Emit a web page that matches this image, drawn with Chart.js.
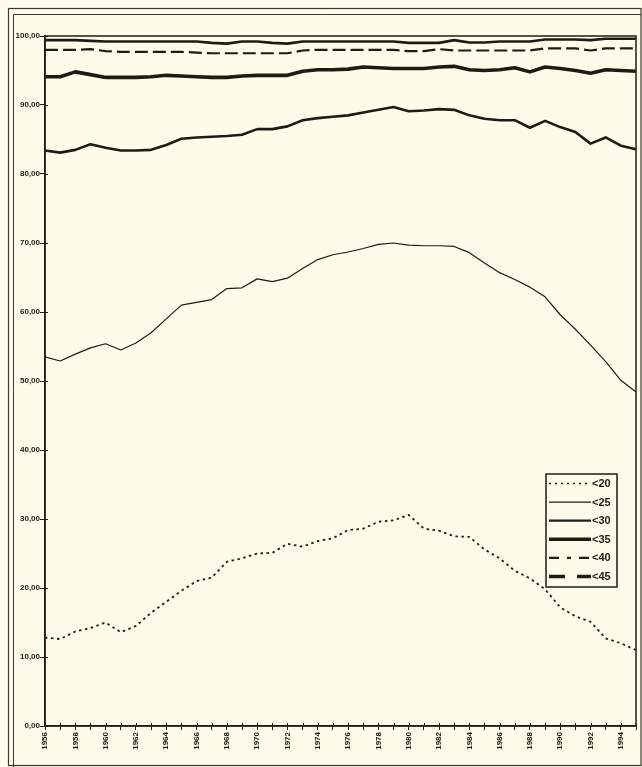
<!DOCTYPE html>
<html>
<head>
<meta charset="utf-8">
<script src="https://cdn.jsdelivr.net/npm/chart.js@4.4.1/dist/chart.umd.min.js"></script>
<style>
  html, body { margin: 0; padding: 0; background: #FEFCE8; }
  canvas { display: block; }
</style>
</head>
<body>
<canvas id="c" width="642" height="767"></canvas>
<script>
const years = [1956,1957,1958,1959,1960,1961,1962,1963,1964,1965,1966,1967,1968,1969,1970,
  1971,1972,1973,1974,1975,1976,1977,1978,1979,1980,1981,1982,1983,1984,1985,1986,1987,1988,
  1989,1990,1991,1992,1993,1994,1995];

const seriesNames = ['<20', '<25', '<30', '<35', '<40', '<45'];

const under20 = [12.8,12.6,13.7,14.2,15.0,13.6,14.5,16.4,18.0,19.6,21.0,21.5,23.8,24.3,25.0,
  25.1,26.4,26.0,26.8,27.2,28.4,28.6,29.6,29.8,30.6,28.6,28.3,27.5,27.4,25.6,24.3,22.5,21.4,
  19.8,17.2,15.9,15.1,12.7,12.0,11.0];

const under25 = [53.5,52.9,53.9,54.8,55.4,54.5,55.5,57.0,59.0,61.0,61.4,61.8,63.4,63.5,64.8,
  64.4,64.9,66.3,67.6,68.3,68.7,69.2,69.8,70.0,69.7,69.6,69.6,69.5,68.6,67.1,65.7,64.7,63.6,
  62.2,59.6,57.5,55.2,52.8,50.1,48.4];

const under30 = [83.4,83.1,83.5,84.3,83.8,83.4,83.4,83.5,84.2,85.1,85.3,85.4,85.5,85.7,86.5,
  86.5,86.9,87.8,88.1,88.3,88.5,88.9,89.3,89.7,89.1,89.2,89.4,89.3,88.5,88.0,87.8,87.8,86.7,
  87.7,86.8,86.1,84.4,85.3,84.1,83.6];

const under35 = [94.1,94.1,94.8,94.4,94.0,94.0,94.0,94.1,94.3,94.2,94.1,94.0,94.0,94.2,94.3,
  94.3,94.3,94.9,95.1,95.1,95.2,95.5,95.4,95.3,95.3,95.3,95.5,95.6,95.1,95.0,95.1,95.4,94.8,
  95.5,95.3,95.0,94.6,95.1,95.0,94.9];

const under40 = [98.0,98.0,98.0,98.1,97.8,97.7,97.7,97.7,97.7,97.7,97.6,97.5,97.5,97.5,97.5,
  97.5,97.5,97.9,98.0,98.0,98.0,98.0,98.0,98.0,97.8,97.8,98.1,97.9,97.9,97.9,97.9,97.9,97.9,
  98.2,98.2,98.2,97.9,98.2,98.2,98.2];

const under45 = [99.4,99.4,99.4,99.3,99.2,99.2,99.2,99.2,99.2,99.2,99.2,99.0,98.9,99.2,99.2,
  99.0,98.9,99.2,99.2,99.2,99.2,99.2,99.2,99.2,99.0,99.0,99.0,99.4,99.05,99.05,99.2,99.2,99.2,
  99.5,99.5,99.5,99.4,99.6,99.6,99.6];

const yTicks = [0,10,20,30,40,50,60,70,80,90,100];

// ---- styles (kept separate from data) ----
const INK = '#1c1c14';
const BG = '#FEFCE8';
const lineStyles = [
  { width: 1.8, dash: [2.5, 3.5] },
  { width: 1.2, dash: [] },
  { width: 2.6, dash: [] },
  { width: 3.6, dash: [] },
  { width: 2.2, dash: [13, 5] },
  { width: 2.6, dash: [] }
];
const legendStyles = [
  { width: 1.4, dash: [2, 4] },
  { width: 1.2, dash: [] },
  { width: 2.2, dash: [] },
  { width: 3.4, dash: [] },
  { width: 2.4, dash: [10, 8, 4, 8] },
  { width: 3.6, dash: [16, 12] }
];

const seriesData = [under20, under25, under30, under35, under40, under45];

const datasets = seriesNames.map((name, i) => ({
  label: name,
  data: seriesData[i],
  borderColor: INK,
  borderWidth: lineStyles[i].width,
  borderDash: lineStyles[i].dash,
  pointRadius: 0,
  tension: 0,
  fill: false,
  borderCapStyle: 'butt',
  borderJoinStyle: 'round'
}));

const framePlugin = {
  id: 'frame',
  beforeDraw(chart) {
    const ctx = chart.ctx;
    ctx.save();
    ctx.fillStyle = BG;
    ctx.fillRect(0, 0, chart.width, chart.height);
    ctx.strokeStyle = '#3a3a30';
    ctx.lineWidth = 1.2;
    ctx.strokeRect(8.5, 8.5, 632.5, 757);
    ctx.lineWidth = 1;
    ctx.beginPath();
    ctx.moveTo(13.5, 770); ctx.lineTo(13.5, 14.5); ctx.lineTo(641, 14.5);
    ctx.stroke();
    ctx.restore();
  },
  afterDatasetsDraw(chart) {
    const a = chart.chartArea;
    const ctx = chart.ctx;
    ctx.save();
    ctx.strokeStyle = INK;
    ctx.lineWidth = 1.5;
    ctx.strokeRect(a.left, a.top, a.right - a.left, a.bottom - a.top);
    // inner half of crossing tick marks
    ctx.lineWidth = 1;
    ctx.beginPath();
    const ys = chart.scales.y, xs = chart.scales.x;
    ys.ticks.forEach(t => {
      const py = Math.round(ys.getPixelForValue(t.value)) + 0.5;
      ctx.moveTo(a.left, py); ctx.lineTo(a.left + 3, py);
    });
    years.forEach((yr, i) => {
      const px = Math.round(xs.getPixelForValue(i)) + 0.5;
      ctx.moveTo(px, a.bottom); ctx.lineTo(px, a.bottom - 3);
    });
    ctx.stroke();
    ctx.restore();
  },
  afterDraw(chart) {
    const ctx = chart.ctx;
    const bx = 546, by = 474, bw = 71, bh = 113;
    ctx.save();
    ctx.fillStyle = BG;
    ctx.fillRect(bx, by, bw, bh);
    ctx.strokeStyle = INK;
    ctx.lineWidth = 1.5;
    ctx.strokeRect(bx, by, bw, bh);
    const ds = chart.data.datasets;
    ctx.font = 'bold 11px "Liberation Sans", Arial, sans-serif';
    ctx.textBaseline = 'middle';
    ctx.textAlign = 'left';
    ds.forEach((d, i) => {
      const y = by + 9.5 + i * 18.6;
      ctx.beginPath();
      ctx.strokeStyle = INK;
      ctx.lineWidth = legendStyles[i].width;
      ctx.setLineDash(legendStyles[i].dash);
      ctx.moveTo(549, y);
      ctx.lineTo(591, y);
      ctx.stroke();
      ctx.setLineDash([]);
      ctx.fillStyle = INK;
      ctx.fillText(d.label, 592, y + 0.5);
    });
    ctx.restore();
  }
};

new Chart(document.getElementById('c'), {
  type: 'line',
  data: { labels: years, datasets },
  options: {
    responsive: false,
    animation: false,
    layout: { padding: { left: 0, top: 36, right: 6, bottom: 11 } },
    plugins: { legend: { display: false }, tooltip: { enabled: false } },
    scales: {
      x: {
        type: 'category',
        offset: false,
        afterFit(scale) { scale.height = 30; scale.paddingRight = 0; scale.paddingLeft = 0; },
        grid: { drawOnChartArea: false, drawTicks: true, tickLength: 4, color: INK, lineWidth: 1 },
        border: { display: true, color: INK, width: 1.5 },
        ticks: {
          autoSkip: false,
          minRotation: 90,
          maxRotation: 90,
          padding: 2,
          color: INK,
          font: { family: '"Liberation Sans", Arial, sans-serif', size: 8, weight: 'bold' },
          callback(value, index) {
            const y = years[index];
            return (y % 2 === 0) ? String(y) : '';
          }
        }
      },
      y: {
        min: 0,
        max: 100,
        afterFit(scale) { scale.width = 45; scale.paddingTop = 0; scale.paddingBottom = 0; },
        afterBuildTicks(scale) { scale.ticks = yTicks.map(v => ({ value: v })); },
        grid: { drawOnChartArea: false, drawTicks: true, tickLength: 5, color: INK, lineWidth: 1 },
        border: { display: true, color: INK, width: 1.5 },
        ticks: {
          padding: 0,
          color: INK,
          font: { family: '"Liberation Sans", Arial, sans-serif', size: 8, weight: 'bold' },
          callback(value) { return value.toFixed(2).replace('.', ','); }
        }
      }
    }
  },
  plugins: [framePlugin]
});
</script>
</body>
</html>
